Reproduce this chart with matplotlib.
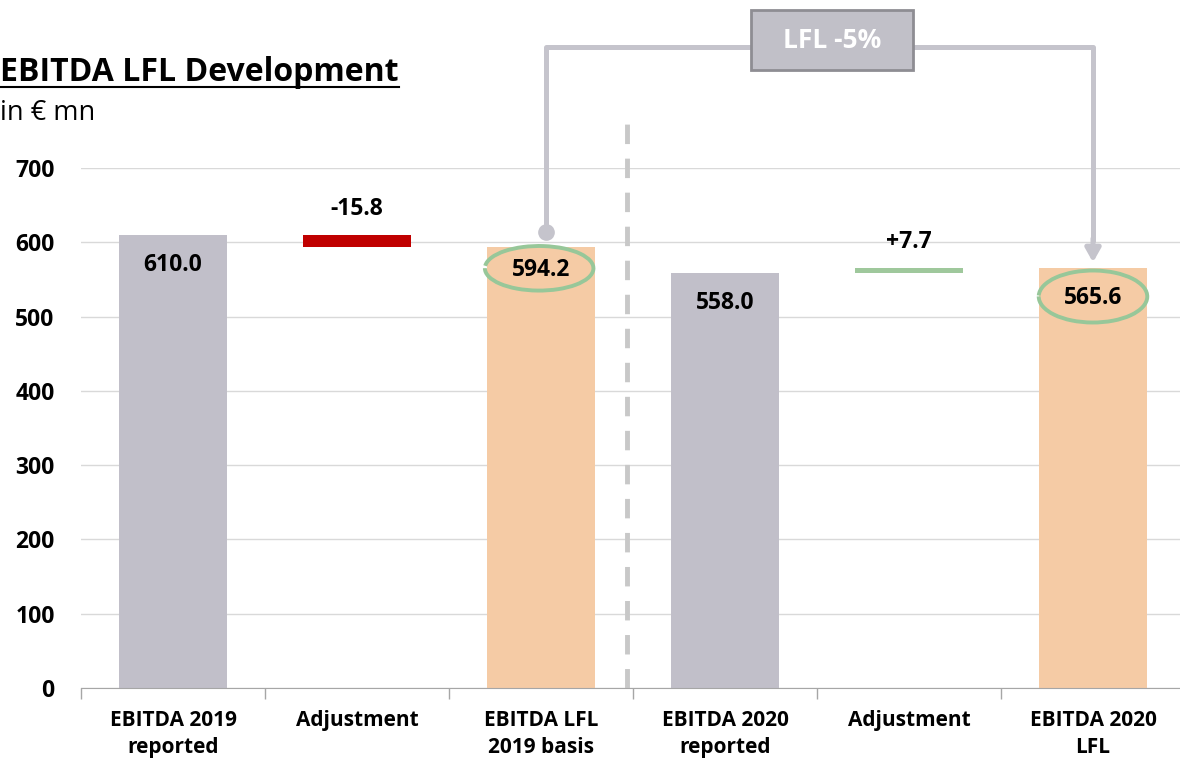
import matplotlib
matplotlib.use("Agg")
import matplotlib.pyplot as plt
from matplotlib.patches import Arc, Rectangle
from matplotlib.lines import Line2D

plt.rcParams['font.family'] = ['Open Sans', 'DejaVu Sans']

categories = ["EBITDA 2019\nreported", "Adjustment", "EBITDA LFL\n2019 basis",
              "EBITDA 2020\nreported", "Adjustment", "EBITDA 2020\nLFL"]
kinds = ["total", "delta", "total", "total", "delta", "total"]
values = [610.0, -15.8, 594.2, 558.0, 7.7, 565.6]
labels = ["610.0", "-15.8", "594.2", "558.0", "+7.7", "565.6"]
yticks = [0, 100, 200, 300, 400, 500, 600, 700]
lfl_text = "LFL -5%"

GRAY = "#c1bfc9"
ORANGE = "#f5cba5"
RED = "#c00000"
GREEN = "#9fc89c"
ELL = "#97c799"
LINE = "#c5c4cc"

fig = plt.figure(figsize=(11.8, 7.59), dpi=100)
ax = fig.add_axes([81/1180, 71/759, 1104/1180, 520/759])
ax.set_xlim(-0.5, 5.5)
ax.set_ylim(0, 700)

bar_w = 0.59
colors = [GRAY, None, ORANGE, GRAY, None, ORANGE]
for i, (k, v) in enumerate(zip(kinds, values)):
    if k == "total":
        ax.bar(i, v, width=bar_w, color=colors[i], zorder=2)
        off = 31 if i == 2 else 40
        ax.text(i, v - off, labels[i], ha='center', va='center', fontsize=16.5,
                fontweight='bold', color='black', zorder=4)
    else:
        prev = values[i - 1]
        lo, hi = min(prev, prev + v), max(prev, prev + v)
        ax.bar(i, hi - lo, bottom=lo, width=bar_w, color=RED if v < 0 else GREEN, zorder=2)
        ax.text(i, hi + 35, labels[i], ha='center', va='center', fontsize=16.5,
                fontweight='bold', color='black', zorder=4)

# grid
ax.set_yticks(yticks)
ax.yaxis.grid(True, color='#d9d9d9', lw=1)
ax.set_axisbelow(True)
ax.tick_params(axis='y', length=0, pad=19, labelsize=16.5)
for t in ax.get_yticklabels():
    t.set_fontweight('bold')
for s in ['top', 'right', 'left']:
    ax.spines[s].set_visible(False)
ax.spines['bottom'].set_color('#a6a6a6')
ax.set_xticks(range(6))
ax.set_xticklabels(categories, fontsize=15, fontweight='bold', linespacing=1.38)
ax.set_xticks([i + 0.5 for i in range(-1, 6)], minor=True)
ax.tick_params(axis='x', which='major', length=0, pad=15.5)
ax.tick_params(axis='x', which='minor', length=8, color='#a6a6a6', width=1)

# vertical dashed separator
ax.plot([2.47, 2.47], [0, 771], color='#c8c8c8', lw=3.5, ls=(0, (4, 3)),
        clip_on=False, zorder=1)

# connector
yl = 863
ax.plot([2.027, 2.027, 3.141], [613.8, yl, yl], color=LINE, lw=3.6,
        clip_on=False, zorder=3, solid_capstyle='butt')
ax.plot([2.027], [613.8], 'o', color=LINE, ms=11, clip_on=False, zorder=3)
ax.plot([4.022, 5.0, 5.0], [yl, yl, 600], color=LINE, lw=3.6,
        clip_on=False, zorder=3, solid_capstyle='butt')
ax.annotate('', xy=(5.0, 573), xytext=(5.0, 605),
            arrowprops=dict(arrowstyle='-|>,head_length=0.8,head_width=0.45',
                            color=LINE, lw=3.6, shrinkA=0, shrinkB=0),
            annotation_clip=False, zorder=3)
box = Rectangle((3.141, 831.9), 4.022 - 3.141, 912.6 - 831.9, facecolor='#c1c0c8',
                edgecolor='#8e8d93', lw=2, clip_on=False, zorder=4)
ax.add_patch(box)
ax.text((3.141 + 4.022) / 2, (831.9 + 912.6) / 2, lfl_text, ha='center', va='center',
        color='white', fontsize=19, fontweight='bold', zorder=5)

# hand drawn ellipses
ax.add_patch(Arc((1.99, 565), 0.59, 60, theta1=150, theta2=455, color=ELL, lw=2.8,
                 clip_on=False, zorder=3))
ax.add_patch(Arc((5.0, 527), 0.59, 70, theta1=155, theta2=462, color=ELL, lw=2.8,
                 clip_on=False, zorder=3))

# title
title = fig.text(0.0, 0.8935, "EBITDA LFL Development", fontsize=23, fontweight='bold',
                 ha='left', va='baseline')
fig.text(0.0, 0.8425, "in € mn", fontsize=19.5, ha='left', va='baseline')
fig.canvas.draw()
bb = title.get_window_extent().transformed(fig.transFigure.inverted())
fig.add_artist(Line2D([bb.x0, bb.x1], [0.8855, 0.8855], color='black', lw=1.5,
                      transform=fig.transFigure))

fig.savefig("out.png", dpi=100)
